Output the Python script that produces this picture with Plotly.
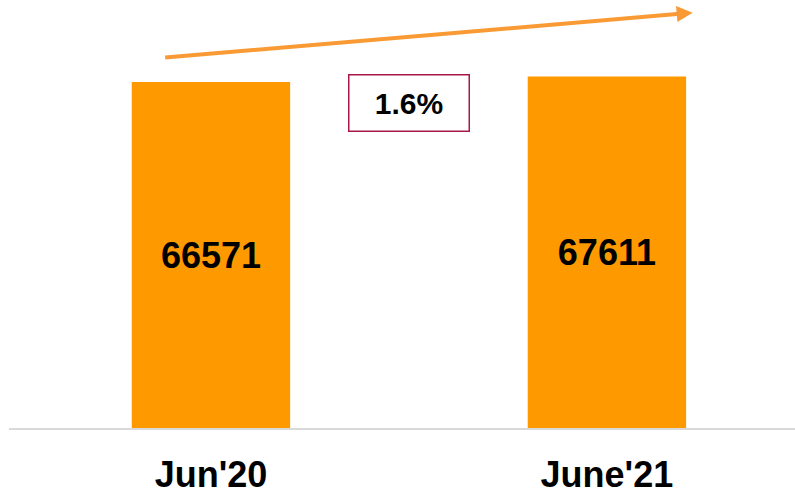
import plotly.graph_objects as go

# === Data ===
periods = ["Jun'20", "June'21"]
values = [66571, 67611]

growth = (values[1] - values[0]) / values[0] * 100

BAR_COLOR = "#FF9900"
ARROW_COLOR = "#FA9A35"
BOX_COLOR = "#A8174A"
FONT = "Liberation Sans, Arial, sans-serif"

fig = go.Figure(
    go.Bar(
        x=periods,
        y=values,
        width=0.4,
        marker=dict(color=BAR_COLOR, line=dict(width=0)),
        text=[f"<b>{v}</b>" for v in values],
        textposition="inside",
        insidetextanchor="middle",
        insidetextfont=dict(family=FONT, size=36, color="black"),
        hoverinfo="skip",
    )
)

# growth box between the bars
fig.add_annotation(
    x=0.5, y=62530, xref="x", yref="y",
    text=f"<b>{growth:.1f}%</b>",
    showarrow=False,
    font=dict(family=FONT, size=30, color="black"),
    bordercolor=BOX_COLOR, borderwidth=1.5,
    bgcolor="white",
    width=117, height=53,
    align="center", valign="middle",
)

# trend arrow across the top
fig.add_annotation(
    x=0.8698, y=0.9703, xref="paper", yref="paper",
    ax=-529, ay=45, axref="pixel", ayref="pixel",
    text="", showarrow=True,
    arrowhead=2, arrowsize=0.8, arrowwidth=4, arrowcolor=ARROW_COLOR,
    standoff=0, startstandoff=0,
)

fig.update_layout(
    width=795, height=494,
    margin=dict(l=9, r=0, t=0, b=66),
    paper_bgcolor="white", plot_bgcolor="white",
    showlegend=False,
    xaxis=dict(
        range=[-0.510, 1.475],
        showline=True, linecolor="#D9D9D9", linewidth=2,
        showgrid=False, zeroline=False,
        ticks="", ticklabelstandoff=14,
        tickfont=dict(family=FONT, size=36, color="black"),
        tickvals=periods,
        ticktext=[f"<b>{p}</b>" for p in periods],
    ),
    yaxis=dict(
        range=[0, 82350],
        visible=False, showgrid=False, zeroline=False,
    ),
)

# page default body margin would shift the chart
fig.write_html(
    "out.html",
    config={"displayModeBar": False},
    post_script="document.body.style.margin='0';",
)
